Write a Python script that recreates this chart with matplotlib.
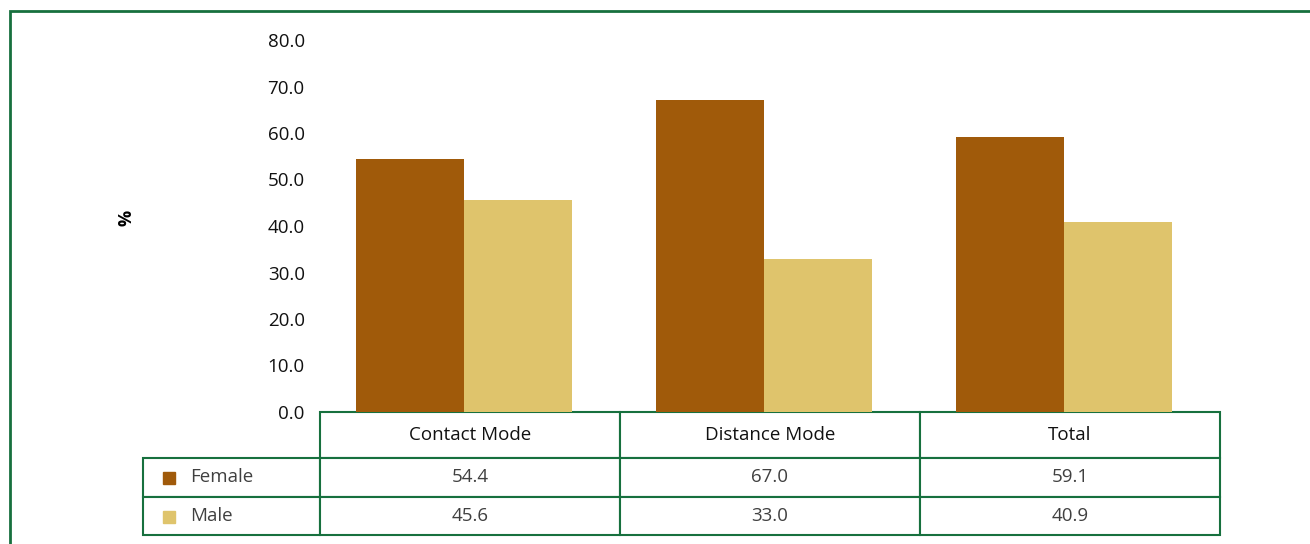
import matplotlib
matplotlib.use('Agg')
import numpy as np
import matplotlib.pyplot as plt
from matplotlib.patches import Rectangle

categories = ['Contact Mode', 'Distance Mode', 'Total']
series_names = ['Female', 'Male']
female = [54.4, 67.0, 59.1]
male = [45.6, 33.0, 40.9]
y_ticks = [0, 10, 20, 30, 40, 50, 60, 70, 80]

colors = ['#A05A0A', '#DFC46C']
green = '#17703e'

plt.rcParams['font.family'] = ['Open Sans', 'DejaVu Sans']

W, H = 1310, 544
fig = plt.figure(figsize=(W / 100, H / 100), dpi=100)
# axes area in pixels: x 320..1220, y 40..412
ax = fig.add_axes([320 / W, 1 - 412 / H, 900 / W, 372 / H])

x = np.arange(len(categories))
w = 0.36
ax.bar(x - w / 2 - 0.02, female, w, color=colors[0])
ax.bar(x + w / 2 - 0.02, male, w, color=colors[1])

ax.set_xlim(-0.5, len(categories) - 0.5)
ax.set_ylim(0, 80)
ax.set_yticks(y_ticks)
ax.set_yticklabels(['%.1f' % v for v in y_ticks], fontsize=13.5, color='#111111')
ax.set_xticks([])
ax.tick_params(axis='y', length=0, pad=11)
for s in ax.spines.values():
    s.set_visible(False)

ax.set_ylabel('%', fontsize=13, fontweight='bold', rotation=90, va='center')
ax.yaxis.set_label_coords((127 - 320) / 900, (412 - 218) / 372)

# data table under the bars
cell_text = [['%.1f' % v for v in female], ['%.1f' % v for v in male]]
tab_h = (46 + 39 + 38) / 372
tbl = ax.table(cellText=cell_text, colLabels=categories,
               cellLoc='center', bbox=[0, -tab_h, 1, tab_h])
row_h = [46, 39, 38]
for i, name in enumerate(series_names):
    tbl.add_cell(i + 1, -1, 177 / 900, row_h[i + 1] / 372, text=name, loc='left')
tbl.auto_set_font_size(False)
tbl.set_fontsize(13.5)
for (r, c), cell in tbl.get_celld().items():
    cell.set_edgecolor(green)
    cell.set_linewidth(1.5)
    cell.set_height(row_h[r] / 372)
    if c >= 0:
        cell.set_width(1 / len(categories))
    if r == 0:
        cell.get_text().set_color('#111111')
    else:
        cell.get_text().set_color('#404040')
    if c == -1:
        cell.PAD = 0.265

# legend keys in the row label cells
key_y = [(412 - 484) / 372, (412 - 523) / 372]
for i, name in enumerate(series_names):
    ax.add_patch(Rectangle(((163 - 320) / 900, key_y[i]), 12 / 900, 12 / 372,
                           transform=ax.transAxes, color=colors[i], clip_on=False))

# outer frame
fig.add_artist(Rectangle((9.5 / W, -0.1), 1.2, (H - 11) / H + 0.1,
                         transform=fig.transFigure, fill=False,
                         edgecolor=green, linewidth=2))

fig.savefig('out.png', dpi=100)
